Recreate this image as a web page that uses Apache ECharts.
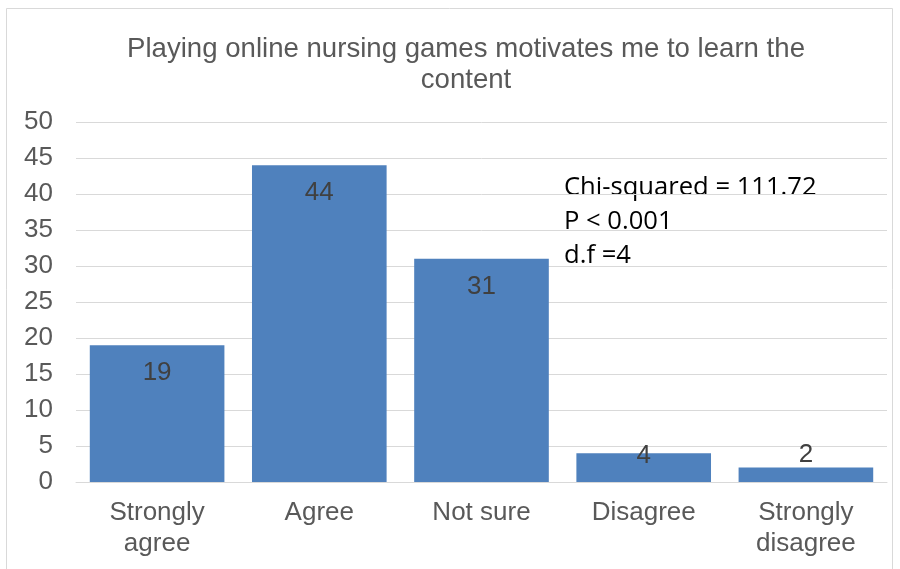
<!DOCTYPE html>
<html>
<head>
<meta charset="utf-8">
<script src="https://cdn.jsdelivr.net/npm/echarts@6/dist/echarts.min.js"></script>
<style>
  html, body { margin: 0; padding: 0; background: #fff; }
  #chart { width: 900px; height: 569px; }
</style>
</head>
<body>
<div id="chart"></div>
<script>
// Survey responses: "Playing online nursing games motivates me to learn the content"
const categories = ['Strongly\nagree', 'Agree', 'Not sure', 'Disagree', 'Strongly\ndisagree'];
const counts = [19, 44, 31, 4, 2];
const statLines = ['Chi-squared = 111.72', 'P < 0.001', 'd.f =4'];

const chart = echarts.init(document.getElementById('chart'), null, { renderer: 'canvas' });

// Labels sit inside the bar top; very short bars get them nudged above.
const barData = counts.map(v => {
  if (v >= 10) return { value: v };
  return {
    value: v,
    label: { position: 'top', distance: v > 3 ? -16 : 0 }
  };
});

const baseFont = 'Liberation Sans, Arial, sans-serif';

chart.setOption({
  animation: false,
  backgroundColor: '#ffffff',
  title: {
    text: 'Playing online nursing games motivates me to learn the\ncontent',
    left: 461,
    top: 29,
    textAlign: 'center',
    textStyle: {
      fontFamily: baseFont,
      fontSize: 27.6,
      fontWeight: 'normal',
      color: '#595959',
      lineHeight: 31
    }
  },
  graphic: [
    {
      type: 'rect',
      shape: { x: 6.5, y: 8.5, width: 886, height: 570 },
      style: { fill: 'none', stroke: '#d9d9d9', lineWidth: 1 },
      silent: true
    },
    {
      type: 'text',
      left: 564,
      top: 171,
      style: {
        text: statLines.join('\n'),
        fontFamily: 'Open Sans, Liberation Sans, sans-serif',
        fontSize: 25.6,
        lineHeight: 34,
        fill: '#000000'
      }
    }
  ],
  grid: { left: 76, right: 13, top: 122, bottom: 87 },
  xAxis: {
    type: 'category',
    data: categories,
    axisLine: { show: true, lineStyle: { color: '#d9d9d9', width: 1 } },
    axisTick: { show: false },
    axisLabel: {
      color: '#595959',
      fontFamily: baseFont,
      fontSize: 26,
      lineHeight: 31,
      margin: 15
    }
  },
  yAxis: {
    type: 'value',
    min: 0,
    max: 50,
    interval: 5,
    axisLine: { show: false },
    axisTick: { show: false },
    splitLine: { lineStyle: { color: '#d9d9d9', width: 1 } },
    axisLabel: {
      color: '#595959',
      fontFamily: baseFont,
      fontSize: 26,
      margin: 23
    }
  },
  series: [{
    type: 'bar',
    data: barData,
    barCategoryGap: '17%',
    itemStyle: { color: '#4f81bd' },
    label: {
      show: true,
      position: 'insideTop',
      distance: 15,
      color: '#404040',
      fontFamily: baseFont,
      fontSize: 26
    }
  }]
});
</script>
</body>
</html>
